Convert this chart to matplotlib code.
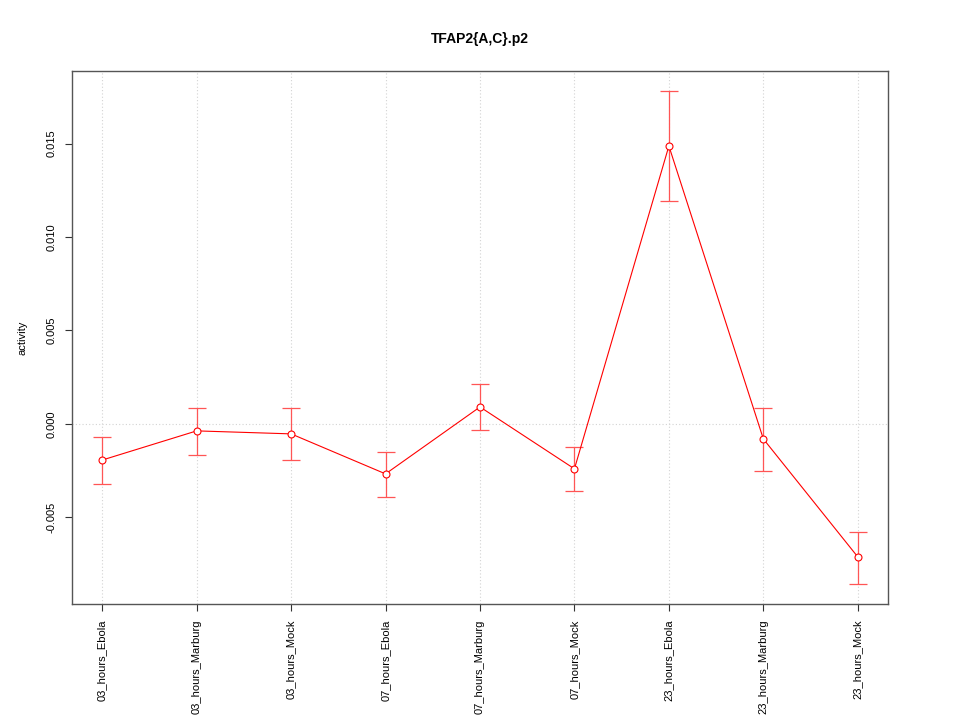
import numpy as np
import matplotlib.pyplot as plt

plt.rcParams['font.family'] = ['Liberation Sans', 'DejaVu Sans']

conditions = ["03_hours_Ebola", "03_hours_Marburg", "03_hours_Mock",
              "07_hours_Ebola", "07_hours_Marburg", "07_hours_Mock",
              "23_hours_Ebola", "23_hours_Marburg", "23_hours_Mock"]
activity = [-0.00193, -0.00037, -0.00053, -0.00267, 0.00091, -0.0024,
            0.01487, -0.0008, -0.00711]
upper = [-0.0007, 0.00086, 0.00086, -0.0015, 0.00214, -0.00123,
         0.0178, 0.00086, -0.00578]
lower = [-0.0032, -0.00166, -0.00193, -0.0039, -0.00032, -0.00358,
         0.01193, -0.00251, -0.00856]

x = np.arange(len(conditions))
act = np.array(activity)
err = [act - np.array(lower), np.array(upper) - act]

fig = plt.figure(figsize=(9.6, 7.2), dpi=100)
ax = fig.add_axes([72 / 960, 116 / 720, 816 / 960, 533 / 720])

for xi in x:
    ax.axvline(xi, color="#d3d3d3", lw=0.8, ls=(0, (1, 2)), zorder=0)
ax.axhline(0, color="#d3d3d3", lw=0.8, ls=(0, (1, 2)), zorder=0)

ax.errorbar(x, act, yerr=err, fmt="none", ecolor="#ff5555", elinewidth=0.9,
            capsize=6.5, capthick=0.9, zorder=2)
ax.plot(x, act, color="red", lw=0.8, marker="o", ms=5, mfc="white",
        mec="red", mew=0.8, zorder=3)

ax.set_xlim(-0.32, 8.32)
ax.set_ylim(-0.00963, 0.01888)
ax.set_xticks(x)
ax.set_xticklabels(conditions, rotation=90, fontsize=8)
ax.set_yticks([-0.005, 0.0, 0.005, 0.010, 0.015])
ax.set_yticklabels(["-0.005", "0.000", "0.005", "0.010", "0.015"],
                   rotation=90, va="center", fontsize=8)
ax.tick_params(direction="out", length=5, width=0.8, colors="#333333",
               labelcolor="black", pad=6)
ax.set_ylabel("activity", fontsize=8, labelpad=14)
for s in ax.spines.values():
    s.set_color("#555555")
    s.set_linewidth(1)
ax.set_title("TFAP2{A,C}.p2", fontsize=10, fontweight="bold", pad=20)

fig.savefig("out.png", dpi=100)
